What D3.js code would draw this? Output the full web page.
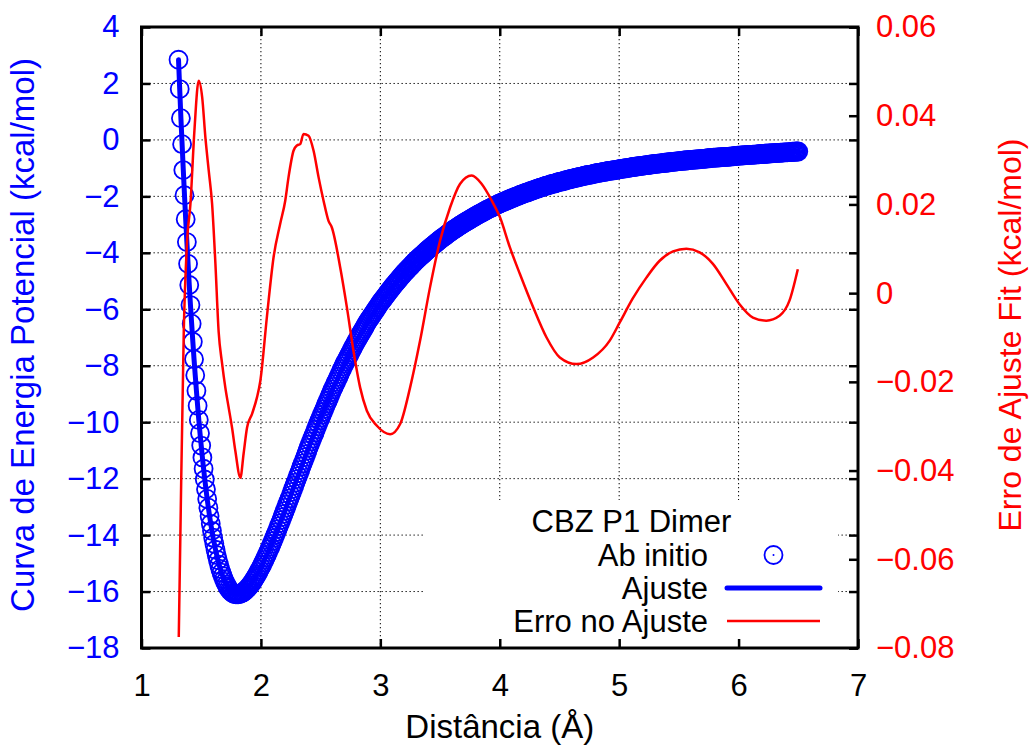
<!DOCTYPE html>
<html>
<head>
<meta charset="utf-8">
<script src="https://cdn.jsdelivr.net/npm/d3@7"></script>
<style>
  body { margin: 0; background: #fff; }
  svg text { font-family: "Liberation Sans", Arial, sans-serif; }
</style>
</head>
<body>
<div id="chart"></div>
<script>
// ===================================================
// data

// ab initio energies (kcal/mol), one per 0.01 A starting at 1.31 A
var abStart = 1.31;
var abStep = 0.01;
var abEnergy = [
    2.84, 1.80, 0.77, -0.15, -1.07, -1.96, -2.81, -3.62, -4.39, -5.14,
    -5.85, -6.51, -7.15, -7.77, -8.34, -8.89, -9.42, -9.92, -10.39, -10.83,
    -11.25, -11.65, -12.03, -12.38, -12.72, -13.03, -13.32, -13.60, -13.85, -14.09,
    -14.31, -14.52, -14.71, -14.89, -15.05, -15.20, -15.33, -15.45, -15.56, -15.66,
    -15.75, -15.83, -15.90, -15.96, -16.00, -16.04, -16.07, -16.09, -16.10, -16.10,
    -16.10, -16.09, -16.07, -16.05, -16.03, -16.00, -15.96, -15.92, -15.87, -15.83,
    -15.77, -15.72, -15.65, -15.59, -15.52, -15.45, -15.38, -15.30, -15.22, -15.14,
    -15.06, -14.97, -14.88, -14.79, -14.70, -14.60, -14.50, -14.41, -14.31, -14.21,
    -14.10, -14.00, -13.90, -13.79, -13.68, -13.58, -13.47, -13.36, -13.25, -13.14,
    -13.03, -12.92, -12.81, -12.70, -12.59, -12.47, -12.36, -12.25, -12.14, -12.02,
    -11.91, -11.80, -11.69, -11.57, -11.46, -11.35, -11.24, -11.13, -11.01, -10.90,
    -10.79, -10.68, -10.58, -10.47, -10.37, -10.26, -10.15, -10.05, -9.94, -9.84,
    -9.74, -9.64, -9.54, -9.44, -9.34, -9.24, -9.14, -9.04, -8.94, -8.84,
    -8.75, -8.66, -8.57, -8.48, -8.39, -8.29, -8.20, -8.11, -8.02, -7.93,
    -7.85, -7.77, -7.69, -7.61, -7.53, -7.44, -7.36, -7.28, -7.20, -7.12,
    -7.05, -6.98, -6.90, -6.83, -6.76, -6.69, -6.62, -6.54, -6.47, -6.40,
    -6.34, -6.27, -6.21, -6.15, -6.09, -6.02, -5.96, -5.90, -5.83, -5.77,
    -5.71, -5.66, -5.60, -5.55, -5.49, -5.43, -5.38, -5.32, -5.27, -5.21,
    -5.16, -5.11, -5.06, -5.01, -4.96, -4.91, -4.86, -4.81, -4.76, -4.71,
    -4.67, -4.62, -4.58, -4.53, -4.49, -4.45, -4.40, -4.36, -4.31, -4.27,
    -4.23, -4.19, -4.15, -4.11, -4.08, -4.04, -4.00, -3.96, -3.92, -3.88,
    -3.85, -3.81, -3.78, -3.74, -3.71, -3.67, -3.64, -3.60, -3.57, -3.53,
    -3.50, -3.47, -3.44, -3.41, -3.38, -3.34, -3.31, -3.28, -3.25, -3.22,
    -3.19, -3.16, -3.14, -3.11, -3.08, -3.05, -3.02, -3.00, -2.97, -2.94,
    -2.92, -2.89, -2.87, -2.84, -2.82, -2.79, -2.77, -2.74, -2.72, -2.69,
    -2.67, -2.64, -2.62, -2.60, -2.58, -2.55, -2.53, -2.51, -2.48, -2.46,
    -2.44, -2.42, -2.40, -2.38, -2.36, -2.33, -2.31, -2.29, -2.27, -2.25,
    -2.23, -2.21, -2.20, -2.18, -2.16, -2.14, -2.12, -2.11, -2.09, -2.07,
    -2.05, -2.04, -2.02, -2.00, -1.99, -1.97, -1.95, -1.93, -1.92, -1.90,
    -1.89, -1.87, -1.86, -1.84, -1.83, -1.81, -1.80, -1.78, -1.77, -1.75,
    -1.74, -1.72, -1.71, -1.69, -1.68, -1.67, -1.65, -1.64, -1.62, -1.61,
    -1.60, -1.59, -1.57, -1.56, -1.55, -1.54, -1.53, -1.51, -1.50, -1.49,
    -1.48, -1.47, -1.46, -1.45, -1.44, -1.42, -1.41, -1.40, -1.39, -1.38,
    -1.37, -1.36, -1.35, -1.34, -1.33, -1.32, -1.31, -1.30, -1.29, -1.28,
    -1.27, -1.26, -1.25, -1.24, -1.24, -1.23, -1.22, -1.21, -1.20, -1.19,
    -1.18, -1.17, -1.17, -1.16, -1.15, -1.14, -1.13, -1.13, -1.12, -1.11,
    -1.10, -1.10, -1.09, -1.08, -1.08, -1.07, -1.06, -1.06, -1.05, -1.04,
    -1.03, -1.03, -1.02, -1.01, -1.01, -1.00, -0.99, -0.99, -0.98, -0.97,
    -0.96, -0.96, -0.95, -0.95, -0.94, -0.93, -0.93, -0.92, -0.92, -0.91,
    -0.90, -0.90, -0.89, -0.89, -0.88, -0.88, -0.87, -0.86, -0.86, -0.85,
    -0.85, -0.84, -0.84, -0.83, -0.83, -0.82, -0.82, -0.81, -0.81, -0.80,
    -0.80, -0.79, -0.79, -0.78, -0.78, -0.77, -0.77, -0.76, -0.76, -0.75,
    -0.75, -0.74, -0.74, -0.73, -0.73, -0.73, -0.72, -0.72, -0.71, -0.71,
    -0.71, -0.70, -0.70, -0.69, -0.69, -0.69, -0.68, -0.68, -0.67, -0.67,
    -0.67, -0.66, -0.66, -0.65, -0.65, -0.65, -0.64, -0.64, -0.63, -0.63,
    -0.63, -0.62, -0.62, -0.62, -0.61, -0.61, -0.61, -0.60, -0.60, -0.60,
    -0.60, -0.59, -0.59, -0.58, -0.58, -0.58, -0.57, -0.57, -0.56, -0.56,
    -0.56, -0.55, -0.55, -0.55, -0.54, -0.54, -0.54, -0.53, -0.53, -0.53,
    -0.53, -0.52, -0.52, -0.52, -0.51, -0.51, -0.51, -0.50, -0.50, -0.50,
    -0.50, -0.49, -0.49, -0.49, -0.48, -0.48, -0.48, -0.47, -0.47, -0.47,
    -0.47, -0.46, -0.46, -0.46, -0.45, -0.45, -0.45, -0.44, -0.44, -0.44,
    -0.44, -0.43, -0.43, -0.43, -0.42, -0.42, -0.42, -0.41, -0.41, -0.41
];

// fit error curve (right axis)
var errDist = [
    1.312, 1.326, 1.354, 1.382, 1.410, 1.443, 1.479, 1.508, 1.535, 1.563,
    1.591, 1.619, 1.646, 1.675, 1.702, 1.730, 1.758, 1.786, 1.828, 1.855,
    1.884, 1.926, 1.967, 1.995, 2.051, 2.106, 2.162, 2.204, 2.231, 2.273,
    2.302, 2.329, 2.357, 2.399, 2.441, 2.483, 2.524, 2.566, 2.594, 2.664,
    2.720, 2.775, 2.831, 2.887, 2.971, 3.082, 3.166, 3.249, 3.333, 3.416,
    3.500, 3.584, 3.667, 3.765, 3.849, 3.932, 4.002, 4.085, 4.169, 4.280,
    4.392, 4.503, 4.643, 4.782, 4.921, 5.005, 5.114, 5.228, 5.339, 5.451,
    5.563, 5.674, 5.785, 5.897, 6.008, 6.120, 6.232, 6.343, 6.426, 6.496
];
var errValue = [
    -0.0775, -0.0536, -0.0085, 0.0118, 0.0202, 0.0366, 0.0479, 0.0442, 0.0351, 0.0276,
    0.0202, 0.0066, -0.0087, -0.0159, -0.0213, -0.0258, -0.0303, -0.0356, -0.0416, -0.0362,
    -0.0303, -0.0272, -0.0235, -0.0198, -0.0051, 0.0081, 0.0157, 0.0209, 0.0261, 0.0321,
    0.0333, 0.0336, 0.0359, 0.0355, 0.0321, 0.0261, 0.0209, 0.0163, 0.0148, 0.0058,
    -0.0032, -0.0130, -0.0213, -0.0265, -0.0299, -0.0318, -0.0295, -0.0213, -0.0107, 0.0013,
    0.0118, 0.0193, 0.0246, 0.0265, 0.0246, 0.0209, 0.0171, 0.0103, 0.0043, -0.0032,
    -0.0100, -0.0145, -0.0160, -0.0145, -0.0107, -0.0066, -0.0012, 0.0035, 0.0073, 0.0094,
    0.0100, 0.0092, 0.0066, 0.0021, -0.0025, -0.0055, -0.0062, -0.0051, -0.0017, 0.0054
];

// ticks
var xTickValues = [1, 2, 3, 4, 5, 6, 7];
var yTickValues = [4, 2, 0, -2, -4, -6, -8, -10, -12, -14, -16, -18];
var y2TickValues = [0.06, 0.04, 0.02, 0, -0.02, -0.04, -0.06, -0.08];

var legendTitle = 'CBZ P1 Dimer';
var seriesNames = ['Ab initio', 'Ajuste', 'Erro no Ajuste'];

// ===================================================
// svg and chart group

var svgWidth = 1035;
var svgHeight = 746;

var margin = {
    top: 27,
    right: 177,
    bottom: 98,
    left: 141.5
};

var width = svgWidth - margin.left - margin.right;
var height = svgHeight - margin.top - margin.bottom;

var blue = '#0000ff';
var red = '#ff0000';
var fontFamily = '"Liberation Sans", Arial, sans-serif';
var tickFont = 31;
var keyFont = 31;
var titleFont = 33;

var svg = d3.select('#chart')
    .append('svg')
    .attr('width', svgWidth)
    .attr('height', svgHeight)
    .attr('font-family', fontFamily);

var chartGroup = svg.append('g')
    .attr('transform', `translate(${margin.left}, ${margin.top})`);

// scales
var xScale = d3.scaleLinear().domain([1, 7]).range([0, width]);
var yScale = d3.scaleLinear().domain([-18, 4]).range([height, 0]);
var y2Scale = d3.scaleLinear().domain([-0.08, 0.06]).range([height, 0]);

// points
var abData = abEnergy.map((e, i) => ({ dist: +(abStart + i * abStep).toFixed(2), energy: e }));
var errData = errDist.map((d, i) => ({ dist: d, err: errValue[i] }));

// ===================================================
// dotted grid

var gridGroup = chartGroup.append('g')
    .attr('stroke', '#000')
    .attr('stroke-width', 1)
    .attr('stroke-dasharray', '1.3,2.7');

gridGroup.selectAll('.vgrid')
    .data(xTickValues.slice(1, -1))
    .enter()
    .append('line')
    .attr('x1', d => xScale(d))
    .attr('x2', d => xScale(d))
    .attr('y1', 0)
    .attr('y2', height);

gridGroup.selectAll('.hgrid')
    .data(yTickValues.slice(1, -1))
    .enter()
    .append('line')
    .attr('x1', 0)
    .attr('x2', width)
    .attr('y1', d => yScale(d))
    .attr('y2', d => yScale(d));

// ===================================================
// data

// ab initio circles
var circleGroup = chartGroup.append('g');
circleGroup.selectAll('circle')
    .data(abData)
    .enter()
    .append('circle')
    .attr('cx', d => xScale(d.dist))
    .attr('cy', d => yScale(d.energy))
    .attr('r', 9)
    .attr('fill', 'none')
    .attr('stroke', blue)
    .attr('stroke-width', 1.8);

// fit line
var fitLine = d3.line()
    .x(d => xScale(d.dist))
    .y(d => yScale(d.energy));

chartGroup.append('path')
    .datum(abData)
    .attr('d', fitLine)
    .attr('fill', 'none')
    .attr('stroke', blue)
    .attr('stroke-width', 5)
    .attr('stroke-linejoin', 'round')
    .attr('stroke-linecap', 'round');

// error line on the right axis
var errLine = d3.line()
    .x(d => xScale(d.dist))
    .y(d => y2Scale(d.err))
    .curve(d3.curveMonotoneX);

chartGroup.append('path')
    .datum(errData)
    .attr('d', errLine)
    .attr('fill', 'none')
    .attr('stroke', red)
    .attr('stroke-width', 2.5)
    .attr('stroke-linejoin', 'round');

// ===================================================
// key (opaque, hides the grid behind it)

var keyBox = { x: 425 - margin.left, y: 500 - margin.top, w: 413, h: 148 };

chartGroup.append('rect')
    .attr('x', keyBox.x)
    .attr('y', keyBox.y)
    .attr('width', keyBox.w)
    .attr('height', keyBox.h)
    .attr('fill', '#fff');

var keyGroup = chartGroup.append('g')
    .attr('font-size', keyFont);

keyGroup.append('text')
    .attr('x', keyBox.x + keyBox.w / 2)
    .attr('y', 532 - margin.top)
    .attr('text-anchor', 'middle')
    .text(legendTitle);

var rowY = [555, 588, 621].map(v => v - margin.top);
var textEnd = 708 - margin.left;
var sampleX1 = 727 - margin.left;
var sampleX2 = 820 - margin.left;

seriesNames.forEach((name, i) => {
    keyGroup.append('text')
        .attr('x', textEnd)
        .attr('y', rowY[i])
        .attr('dy', '0.36em')
        .attr('text-anchor', 'end')
        .text(name);
});

keyGroup.append('circle')
    .attr('cx', (sampleX1 + sampleX2) / 2)
    .attr('cy', rowY[0])
    .attr('r', 9)
    .attr('fill', 'none')
    .attr('stroke', blue)
    .attr('stroke-width', 1.8);

keyGroup.append('circle')
    .attr('cx', (sampleX1 + sampleX2) / 2)
    .attr('cy', rowY[0])
    .attr('r', 1)
    .attr('fill', blue);

keyGroup.append('line')
    .attr('x1', sampleX1)
    .attr('x2', sampleX2)
    .attr('y1', rowY[1])
    .attr('y2', rowY[1])
    .attr('stroke', blue)
    .attr('stroke-width', 5)
    .attr('stroke-linecap', 'round');

keyGroup.append('line')
    .attr('x1', sampleX1)
    .attr('x2', sampleX2)
    .attr('y1', rowY[2])
    .attr('y2', rowY[2])
    .attr('stroke', red)
    .attr('stroke-width', 2.5);

// ===================================================
// axes (ticks point inward, like gnuplot)

var tickLen = 9;

function styleAxis(g, color) {
    g.attr('font-family', fontFamily).attr('font-size', tickFont);
    g.select('.domain').remove();
    g.selectAll('.tick line')
        .attr('stroke', '#000')
        .attr('stroke-width', 2.5);
    g.selectAll('.tick text')
        .attr('fill', color);
}

// bottom
var xAxis = chartGroup.append('g')
    .attr('transform', `translate(0, ${height})`)
    .call(d3.axisBottom(xScale)
        .tickValues(xTickValues)
        .tickSizeInner(-tickLen)
        .tickSizeOuter(0)
        .tickPadding(26)
        .tickFormat(d3.format('d')));
styleAxis(xAxis, '#000');

// top mirror
var xTop = chartGroup.append('g')
    .call(d3.axisTop(xScale)
        .tickValues(xTickValues)
        .tickSizeInner(-tickLen)
        .tickSizeOuter(0)
        .tickFormat(''));
styleAxis(xTop, '#000');

// left
var yAxis = chartGroup.append('g')
    .call(d3.axisLeft(yScale)
        .tickValues(yTickValues)
        .tickSizeInner(-tickLen)
        .tickSizeOuter(0)
        .tickPadding(22)
        .tickFormat(d3.format('d')));
styleAxis(yAxis, blue);

// left mirror on the right border
var yMirror = chartGroup.append('g')
    .attr('transform', `translate(${width}, 0)`)
    .call(d3.axisRight(yScale)
        .tickValues(yTickValues)
        .tickSizeInner(-tickLen)
        .tickSizeOuter(0)
        .tickFormat(''));
styleAxis(yMirror, blue);

// right (error)
var y2Axis = chartGroup.append('g')
    .attr('transform', `translate(${width}, 0)`)
    .call(d3.axisRight(y2Scale)
        .tickValues(y2TickValues)
        .tickSizeInner(-tickLen)
        .tickSizeOuter(0)
        .tickPadding(18)
        .tickFormat(d3.format('~g')));
styleAxis(y2Axis, red);

// frame
chartGroup.append('rect')
    .attr('x', 0)
    .attr('y', 0)
    .attr('width', width)
    .attr('height', height)
    .attr('fill', 'none')
    .attr('stroke', '#000')
    .attr('stroke-width', 3);

// ===================================================
// axis titles

svg.append('text')
    .attr('x', margin.left + width / 2)
    .attr('y', 738)
    .attr('text-anchor', 'middle')
    .attr('font-size', titleFont)
    .text('Distância (Å)');

svg.append('text')
    .attr('transform', 'translate(34, 335) rotate(-90)')
    .attr('text-anchor', 'middle')
    .attr('font-size', titleFont)
    .attr('fill', blue)
    .text('Curva de Energia Potencial (kcal/mol)');

svg.append('text')
    .attr('transform', 'translate(1021, 335) rotate(-90)')
    .attr('text-anchor', 'middle')
    .attr('font-size', 32)
    .attr('fill', red)
    .text('Erro de Ajuste Fit (kcal/mol)');
</script>
</body>
</html>
